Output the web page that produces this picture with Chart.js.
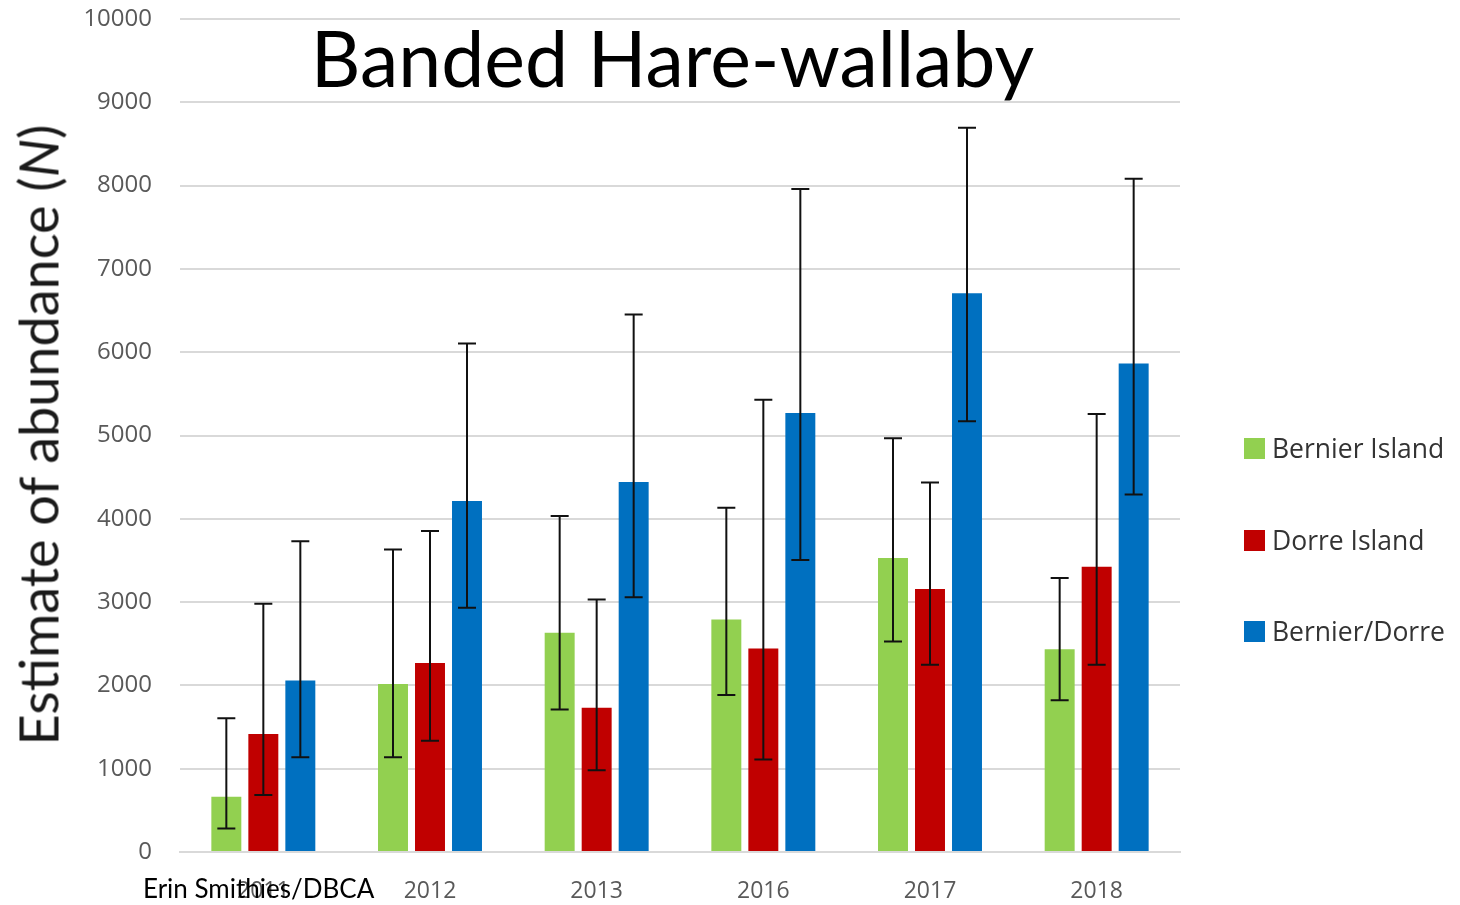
<!DOCTYPE html>
<html>
<head>
<meta charset="utf-8">
<script src="https://cdn.jsdelivr.net/npm/chart.js@4.4.1/dist/chart.umd.min.js"></script>
<style>
  html, body { margin: 0; padding: 0; background: #fff; }
  #wrap { position: relative; width: 1460px; height: 905px; overflow: hidden; }
  #chart { position: absolute; left: 0; top: 0; }
  .title { position: absolute; left: 0; width: 1345px; top: 11px; text-align: center;
           font-family: Lato, sans-serif; font-size: 77px; color: #000; }
  .ylabel { position: absolute; left: 38px; top: 435px; transform: translate(-50%, -50%) rotate(-90deg);
            white-space: nowrap; font-family: Lato, sans-serif; font-size: 54px; color: #1a1a1a; }
  .credit { position: absolute; left: 143px; top: 872px; font-family: Lato, sans-serif; font-size: 26px; color: #000; }
  .legend { position: absolute; left: 1244px; font-family: 'Open Sans', sans-serif; font-size: 26.5px; color: #333; }
  .legend .item { position: absolute; left: 0; white-space: nowrap; height: 30px; line-height: 30px; }
  .legend .box { display: inline-block; width: 21px; height: 21px; vertical-align: middle; margin-right: 7px; position: relative; top: -2px; }
</style>
</head>
<body>
<div id="wrap">
  <canvas id="chart" width="1460" height="905"></canvas>
  <div class="title">Banded Hare-wallaby</div>
  <div class="ylabel">Estimate of abundance (<i>N</i>)</div>
  <div class="credit">Erin Smithies/DBCA</div>
  <div class="legend" id="legend"></div>
</div>
<script>
// survey years
const years = ['2011', '2012', '2013', '2016', '2017', '2018'];

// abundance estimates
const bernier = [663, 2017, 2632, 2791, 3528, 2434];
const dorre = [1418, 2270, 1733, 2443, 3156, 3424];
const combined = [2060, 4213, 4443, 5269, 6707, 5863];

// confidence limits, low and high
const bernierLow = [282, 1137, 1712, 1884, 2527, 1822];
const bernierHigh = [1607, 3631, 4034, 4133, 4967, 3290];
const dorreLow = [683, 1337, 981, 1110, 2247, 2247];
const dorreHigh = [2981, 3855, 3032, 5428, 4437, 5258];
const combinedLow = [1137, 2932, 3058, 3505, 5170, 4291];
const combinedHigh = [3731, 6105, 6452, 7960, 8693, 8082];

const yTicks = [0, 1000, 2000, 3000, 4000, 5000, 6000, 7000, 8000, 9000, 10000];

const seriesNames = ['Bernier Island', 'Dorre Island', 'Bernier/Dorre'];
const seriesColors = ['#92d050', '#c00000', '#0070c0'];

const errorBars = {
    id: 'errorBars',
    afterDatasetsDraw(chart) {
        const ctx = chart.ctx;
        const yScale = chart.scales.y;
        ctx.save();
        ctx.strokeStyle = '#111';
        ctx.lineWidth = 2;
        chart.data.datasets.forEach((ds, i) => {
            const meta = chart.getDatasetMeta(i);
            meta.data.forEach((bar, j) => {
                const x = bar.x;
                const yLo = yScale.getPixelForValue(ds.errLow[j]);
                const yHi = yScale.getPixelForValue(ds.errHigh[j]);
                const cap = 9;
                ctx.beginPath();
                ctx.moveTo(x, yLo);
                ctx.lineTo(x, yHi);
                ctx.moveTo(x - cap, yLo);
                ctx.lineTo(x + cap, yLo);
                ctx.moveTo(x - cap, yHi);
                ctx.lineTo(x + cap, yHi);
                ctx.stroke();
            });
        });
        ctx.restore();
    }
};

function makeDataset(idx, values, low, high) {
    return {
        label: seriesNames[idx],
        data: values,
        errLow: low,
        errHigh: high,
        backgroundColor: seriesColors[idx],
        categoryPercentage: 0.666,
        barPercentage: 0.81
    };
}

const ctx = document.getElementById('chart').getContext('2d');
new Chart(ctx, {
    type: 'bar',
    data: {
        labels: years,
        datasets: [
            makeDataset(0, bernier, bernierLow, bernierHigh),
            makeDataset(1, dorre, dorreLow, dorreHigh),
            makeDataset(2, combined, combinedLow, combinedHigh)
        ]
    },
    options: {
        responsive: false,
        animation: false,
        devicePixelRatio: 1,
        layout: { padding: { left: 0, right: 280, top: 19, bottom: 0 } },
        plugins: {
            legend: { display: false },
            tooltip: { enabled: false }
        },
        scales: {
            x: {
                grid: { display: false },
                border: { color: '#d9d9d9', width: 2 },
                ticks: {
                    color: '#595959',
                    padding: 18,
                    font: { family: 'Open Sans', size: 23 }
                },
                afterFit(scale) { scale.height = 53; }
            },
            y: {
                min: 0,
                max: 10000,
                afterBuildTicks(scale) { scale.ticks = yTicks.map(v => ({ value: v })); },
                grid: { color: '#d9d9d9', lineWidth: 2, drawTicks: false },
                border: { display: false },
                ticks: {
                    color: '#595959',
                    padding: 28,
                    font: { family: 'Open Sans', size: 24 },
                    callback: v => String(v)
                },
                afterFit(scale) {
                    scale.width = 180;
                    scale.paddingTop = 0;
                    scale.paddingBottom = 0;
                }
            }
        }
    },
    plugins: [errorBars]
});

// legend on the right
const legend = document.getElementById('legend');
const legendTops = [433, 525, 616];
seriesNames.forEach((name, i) => {
    const item = document.createElement('div');
    item.className = 'item';
    item.style.top = legendTops[i] + 'px';
    item.innerHTML = '<span class="box" style="background:' + seriesColors[i] + '"></span>' + name;
    legend.appendChild(item);
});
</script>
</body>
</html>
